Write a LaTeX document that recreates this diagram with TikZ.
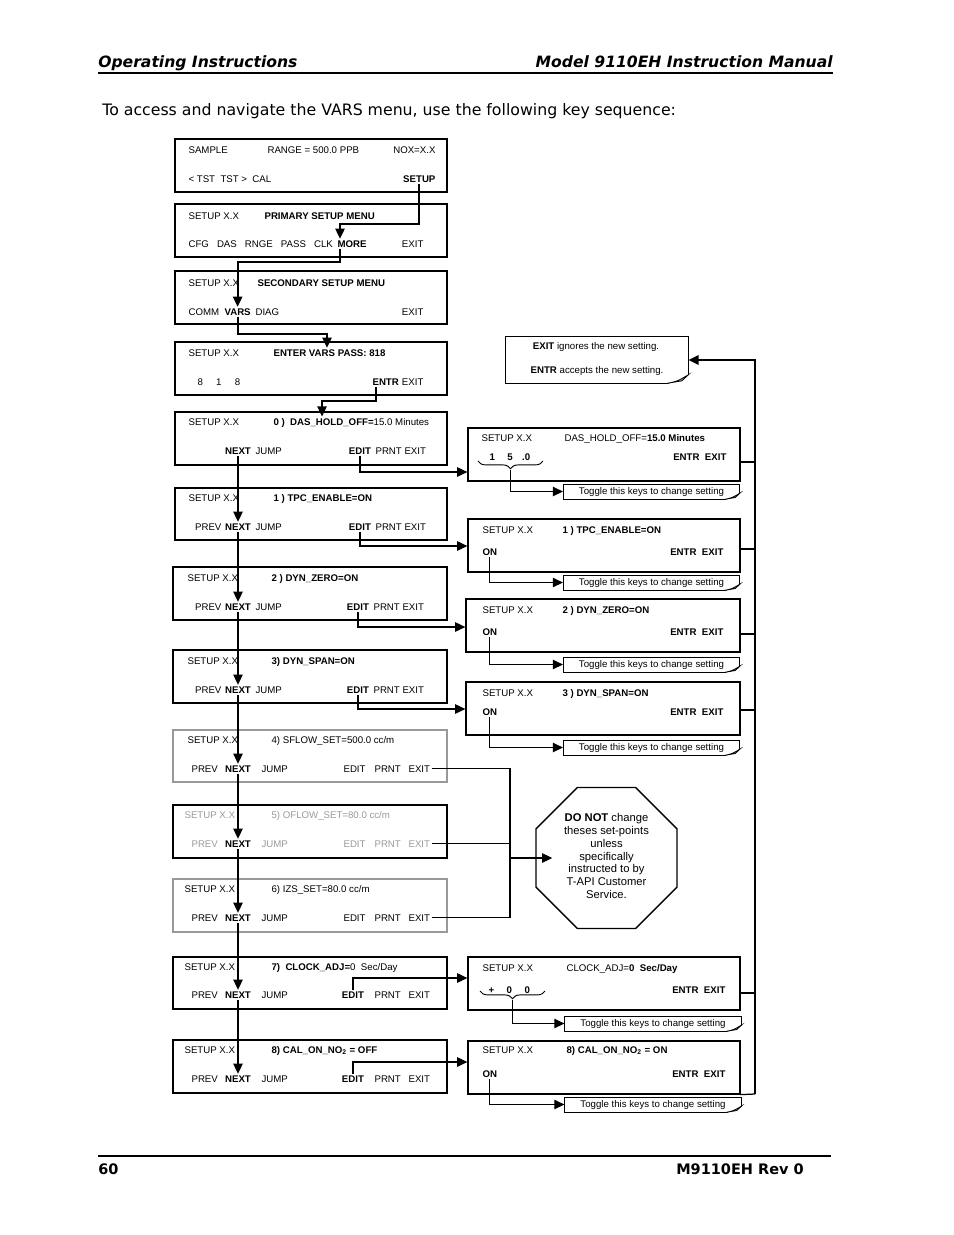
\documentclass[tikz,border=0pt]{standalone}
\usepackage{fontspec}
\setmainfont{Liberation Sans}
\newfontfamily\verd{DejaVu Sans}
\usetikzlibrary{shapes.geometric, arrows.meta, fit, calc, decorations.pathreplacing}
\newcommand{\lcdfont}{\fontsize{6.2}{7.4}\selectfont}
\newcommand{\stopfont}{\fontsize{7.2}{8.15}\selectfont}
\tikzstyle{pagehead} = [inner sep=0pt, font={\verd\fontsize{10}{12}\selectfont\bfseries\itshape}]
\tikzstyle{pagebody} = [inner sep=0pt, font={\verd\fontsize{10.1}{12}\selectfont}]
\tikzstyle{pagefoot} = [inner sep=0pt, font={\verd\fontsize{9.3}{12}\selectfont\bfseries}]
\tikzstyle{panel} = [rectangle, draw, line width=0.8pt, inner sep=0pt]
\tikzstyle{dimpanel} = [panel, draw=black!40]
\tikzstyle{lcd} = [inner sep=0pt, outer sep=1pt, anchor=base west, font=\lcdfont]
\tikzstyle{lcdr} = [lcd, anchor=base east]
\tikzstyle{lcdc} = [lcd, anchor=base]
\tikzstyle{lcdg} = [lcd, text=black!40]
\tikzstyle{toggle} = [rectangle, draw, line width=0.6pt, minimum width=113pt, minimum height=9.6pt, inner sep=0pt, font=\lcdfont]
\tikzstyle{arrow} = [line width=1.2pt, ->, >={Triangle[length=6.5pt,width=6pt]}]
\tikzstyle{wire} = [line width=0.8pt]
\tikzstyle{wirearrow} = [wire, ->, >={Triangle[length=6.5pt,width=6pt]}]
\tikzstyle{brace} = [decorate, decoration={brace, mirror, amplitude=5pt}, line width=0.6pt]
% folded corner at the lower right of a node
\newcommand{\pagecurl}[2]{%
  \fill[white] ($(#1.south east)+(-#2,1.2)$) -- ($(#1.south east)+(1.5,1.2)$) -- ($(#1.south east)+(1.5,-0.4*#2)$) -- cycle;
  \filldraw[fill=black!35, line width=0.5pt] ($(#1.south east)+(-#2,0)$) .. controls ($(#1.south east)+(-0.5*#2,-0.1*#2)$) .. ($(#1.south east)+(0,-0.4*#2)$) -- ($(#1.south east)+(-0.3*#2,-0.12*#2)$) -- cycle;}

\begin{document}
\begin{tikzpicture}[x=0.6415pt, y=-0.6415pt]
\useasboundingbox (0,0) rectangle (954,1235);

% page head and foot
\node [pagehead, anchor=base west] (hdl) at (98,67) {Operating Instructions};
\node [pagehead, anchor=base east] (hdr) at (833,67) {Model 9110EH Instruction Manual};
\draw [line width=0.7pt] (hdl.west |- 0,73) -- (hdr.east |- 0,73);
\node [pagebody, anchor=base west] (intro) at (102,115) {To access and navigate the VARS menu, use the following key sequence:};
\draw [line width=0.7pt] (98,1156) -- (831,1156);
\node [pagefoot, anchor=base west] (pgno) at (98,1174) {60};
\node [pagefoot, anchor=base east] (rev) at (804,1174) {M9110EH Rev 0};

% main menu
\node [panel, fit={(175,139) (447,192)}] (p1) {};
\node [lcd] (p1a) at (187,153) {SAMPLE};
\node [lcd] (p1b) at (266,153) {RANGE = 500.0 PPB};
\node [lcdr] (p1c) at (437,153) {NOX=X.X};
\node [lcd] (p1d) at (187,182) {<~TST~~TST~>~~CAL};
\node [lcdr] (setupkey) at (437,182) {\textbf{SETUP}};

\node [panel, fit={(175,204) (447,257)}] (p2) {};
\node [lcd] (p2a) at (187,219) {SETUP X.X};
\node [lcd] (p2b) at (263,219) {\textbf{PRIMARY SETUP MENU}};
\node [lcd] (p2c) at (187,247) {CFG~~~DAS~~~RNGE~~~PASS~~~CLK};
\node [lcd] (morekey) at (336,247) {\textbf{MORE}};
\node [lcdr] (p2d) at (425,247) {EXIT};

\node [panel, fit={(175,271) (447,324)}] (p3) {};
\node [lcd] (p3a) at (187,286) {SETUP X.X};
\node [lcd] (p3b) at (256,286) {\textbf{SECONDARY SETUP MENU}};
\node [lcd] (p3c) at (187,315) {COMM};
\node [lcd] (varskey) at (223,315) {\textbf{VARS}};
\node [lcd] (p3d) at (254,315) {DIAG};
\node [lcdr] (p3e) at (425,315) {EXIT};

\node [panel, fit={(175,342) (447,395)}] (p4) {};
\node [lcd] (p4a) at (187,356) {SETUP X.X};
\node [lcd] (pass4) at (272,356) {\textbf{ENTER VARS PASS: 818}};
\node [lcd] (p4b) at (196,385) {8\hspace{8.5pt}1\hspace{8.5pt}8};
\node [lcd] (entr4) at (371,385) {\textbf{ENTR}};
\node [lcdr] (p4c) at (425,385) {EXIT};

% VARS list
\node [panel, fit={(175,412) (447,465)}] (p5) {};
\node [lcd] (p5a) at (187,425) {SETUP X.X};
\node [lcd] (hold5) at (272,425) {\textbf{0 )~~DAS\_HOLD\_OFF=}15.0 Minutes};
\node [lcdc] (next5) at (238,454) {\textbf{NEXT}};
\node [lcd] (p5b) at (254,454) {JUMP};
\node [lcdc] (edit5) at (360,454) {\textbf{EDIT}};
\node [lcd] (p5c) at (374,454) {PRNT EXIT};

\node [panel, fit={(175,488) (447,540)}] (p6) {};
\node [lcd] (p6a) at (187,501) {SETUP X.X};
\node [lcd] (p6b) at (272,501) {\textbf{1 ) TPC\_ENABLE=ON}};
\node [lcdr] (p6c) at (223,530) {PREV};
\node [lcdc] (next6) at (238,530) {\textbf{NEXT}};
\node [lcd] (p6d) at (254,530) {JUMP};
\node [lcdc] (edit6) at (360,530) {\textbf{EDIT}};
\node [lcd] (p6e) at (374,530) {PRNT EXIT};

\node [panel, fit={(173,567) (447,620)}] (p7) {};
\node [lcd] (p7a) at (186,581) {SETUP X.X};
\node [lcd] (p7b) at (270,581) {\textbf{2 ) DYN\_ZERO=ON}};
\node [lcdr] (p7c) at (223,610) {PREV};
\node [lcdc] (next7) at (238,610) {\textbf{NEXT}};
\node [lcd] (p7d) at (254,610) {JUMP};
\node [lcdc] (edit7) at (358,610) {\textbf{EDIT}};
\node [lcd] (p7e) at (372,610) {PRNT EXIT};

\node [panel, fit={(173,650) (447,703)}] (p8) {};
\node [lcd] (p8a) at (186,664) {SETUP X.X};
\node [lcd] (p8b) at (270,664) {\textbf{3) DYN\_SPAN=ON}};
\node [lcdr] (p8c) at (223,693) {PREV};
\node [lcdc] (next8) at (238,693) {\textbf{NEXT}};
\node [lcd] (p8d) at (254,693) {JUMP};
\node [lcdc] (edit8) at (358,693) {\textbf{EDIT}};
\node [lcd] (p8e) at (372,693) {PRNT EXIT};

\node [dimpanel, fit={(173,730) (447,782)}] (p9) {};
\node [lcd] (p9a) at (186,743) {SETUP X.X};
\node [lcd] (p9b) at (270,743) {4) SFLOW\_SET=500.0 cc/m};
\node [lcd] (p9c) at (190,772) {PREV};
\node [lcdc] (next9) at (238,772) {\textbf{NEXT}};
\node [lcd] (p9d) at (260,772) {JUMP};
\node [lcd] (p9e) at (342,772) {EDIT};
\node [lcd] (p9f) at (373,772) {PRNT};
\node [lcd] (exit9) at (407,772) {EXIT};

\node [panel, fit={(173,805) (447,858)}] (p10) {};
\node [lcdg] (p10a) at (183,818) {SETUP X.X};
\node [lcdg] (p10b) at (270,818) {5) OFLOW\_SET=80.0 cc/m};
\node [lcdg] (p10c) at (190,847) {PREV};
\node [lcdc] (next10) at (238,847) {\textbf{NEXT}};
\node [lcdg] (p10d) at (260,847) {JUMP};
\node [lcdg] (p10e) at (342,847) {EDIT};
\node [lcdg] (p10f) at (373,847) {PRNT};
\node [lcdg] (exit10) at (407,847) {EXIT};

\node [dimpanel, fit={(173,879) (447,932)}] (p11) {};
\node [lcd] (p11a) at (183,892) {SETUP X.X};
\node [lcd] (p11b) at (270,892) {6) IZS\_SET=80.0 cc/m};
\node [lcd] (p11c) at (190,921) {PREV};
\node [lcdc] (next11) at (238,921) {\textbf{NEXT}};
\node [lcd] (p11d) at (260,921) {JUMP};
\node [lcd] (p11e) at (342,921) {EDIT};
\node [lcd] (p11f) at (373,921) {PRNT};
\node [lcd] (exit11) at (407,921) {EXIT};

\node [panel, fit={(173,957) (447,1009)}] (p12) {};
\node [lcd] (p12a) at (183,970) {SETUP X.X};
\node [lcd] (p12b) at (270,970) {\textbf{7)~~CLOCK\_ADJ=}0~~Sec/Day};
\node [lcd] (p12c) at (190,998) {PREV};
\node [lcdc] (next12) at (238,998) {\textbf{NEXT}};
\node [lcd] (p12d) at (260,998) {JUMP};
\node [lcdc] (edit12) at (353,998) {\textbf{EDIT}};
\node [lcd] (p12e) at (373,998) {PRNT};
\node [lcd] (p12f) at (407,998) {EXIT};

\node [panel, fit={(173,1040) (447,1093)}] (p13) {};
\node [lcd] (p13a) at (183,1053) {SETUP X.X};
\node [lcd] (p13b) at (270,1053) {\textbf{8) CAL\_ON\_NO\textsubscript{2} = OFF}};
\node [lcd] (p13c) at (190,1082) {PREV};
\node [lcdc] (next13) at (238,1082) {\textbf{NEXT}};
\node [lcd] (p13d) at (260,1082) {JUMP};
\node [lcdc] (edit13) at (353,1082) {\textbf{EDIT}};
\node [lcd] (p13e) at (373,1082) {PRNT};
\node [lcd] (p13f) at (407,1082) {EXIT};

% edit panels
\node [panel, fit={(468,428) (740,481)}] (r0) {};
\node [lcd] (r0a) at (480,441) {SETUP X.X};
\node [lcd] (r0b) at (563,441) {DAS\_HOLD\_OFF=\textbf{15.0 Minutes}};
\node [lcd] (r0c) at (488,460) {\textbf{1\hspace{8pt}5\hspace{6pt}.0}};
\node [lcdr] (r0d) at (728,460) {\textbf{ENTR~~EXIT}};
\node [toggle] (tg0) at (651.5,491.5) {Toggle this keys to change setting};

\node [panel, fit={(468,519) (740,572)}] (r1) {};
\node [lcd] (r1a) at (481,533) {SETUP X.X};
\node [lcd] (r1b) at (561,533) {\textbf{1 ) TPC\_ENABLE=ON}};
\node [lcd] (on1) at (481,555) {\textbf{ON}};
\node [lcdr] (r1c) at (725,555) {\textbf{ENTR~~EXIT}};
\node [toggle] (tg1) at (651.5,582.5) {Toggle this keys to change setting};

\node [panel, fit={(466,599) (740,652)}] (r2) {};
\node [lcd] (r2a) at (481,613) {SETUP X.X};
\node [lcd] (r2b) at (561,613) {\textbf{2 ) DYN\_ZERO=ON}};
\node [lcd] (on2) at (481,635) {\textbf{ON}};
\node [lcdr] (r2c) at (725,635) {\textbf{ENTR~~EXIT}};
\node [toggle] (tg2) at (651.5,664.5) {Toggle this keys to change setting};

\node [panel, fit={(466,682) (740,735)}] (r3) {};
\node [lcd] (r3a) at (481,696) {SETUP X.X};
\node [lcd] (r3b) at (561,696) {\textbf{3 ) DYN\_SPAN=ON}};
\node [lcd] (on3) at (481,715) {\textbf{ON}};
\node [lcdr] (r3c) at (725,715) {\textbf{ENTR~~EXIT}};
\node [toggle] (tg3) at (651.5,747.5) {Toggle this keys to change setting};

\node [panel, fit={(468,957) (740,1010)}] (r7) {};
\node [lcd] (r7a) at (481,971) {SETUP X.X};
\node [lcd] (r7b) at (565,971) {CLOCK\_ADJ=\textbf{0~~Sec/Day}};
\node [lcd] (r7c) at (487,993) {\textbf{+\hspace{8pt}0\hspace{8pt}0}};
\node [lcdr] (r7d) at (727,993) {\textbf{ENTR~~EXIT}};
\node [toggle] (tg7) at (653,1023.5) {Toggle this keys to change setting};

\node [panel, fit={(468,1041) (740,1094)}] (r8) {};
\node [lcd] (r8a) at (481,1053) {SETUP X.X};
\node [lcd] (r8b) at (565,1053) {\textbf{8) CAL\_ON\_NO\textsubscript{2} = ON}};
\node [lcd] (on8) at (481,1077) {\textbf{ON}};
\node [lcdr] (r8c) at (727,1077) {\textbf{ENTR~~EXIT}};
\node [toggle] (tg8) at (653,1104.5) {Toggle this keys to change setting};

% note and stop sign
\node [panel, line width=0.6pt, fit={(505,336) (688,383)}] (note) {};
\node [lcdc] (note1) at (596,349.5) {\textbf{EXIT} ignores the new setting.};
\node [lcdc] (note2) at (597,373.5) {\textbf{ENTR} accepts the new setting.};
\node [regular polygon, regular polygon sides=8, draw, line width=0.9pt, minimum size=97.9pt, inner sep=0pt] (stop) at (606.5,858) {};
\node [align=center, inner sep=0pt, font=\stopfont] (stoptxt) at (606.5,856) {\textbf{DO NOT} change\\theses set-points\\unless\\specifically\\instructed to by\\T-API Customer\\Service.};

\pagecurl{note}{22}
\foreach \t in {tg0,tg1,tg2,tg3,tg7,tg8} {\pagecurl{\t}{16}}

% key sequence into the VARS menu
\draw [arrow] (setupkey.south) -- ++(0,40) -| ($(morekey.north west)+(4,0)$);
\draw [arrow] ($(morekey.south west)+(4,0)$) -- ++(0,13) -| (varskey.north);
\draw [arrow] (varskey.south) -- ++(0,17) -| ($(pass4.north west)+(55,0)$);
\draw [arrow] ($(entr4.south west)+(5,0)$) -- ++(0,14) -| ($(hold5.north west)+(50,0)$);
\foreach \a/\b in {5/6, 6/7, 7/8, 8/9, 9/10, 10/11, 11/12, 12/13}
  \draw [wirearrow] (next\a.south) -- (next\b.north);

% EDIT keys
\draw [wirearrow] (edit5.south) |- (r0.west |- 0,472);
\draw [wirearrow] (edit6.south) |- (r1.west |- 0,546);
\draw [wirearrow] (edit7.south) |- (r2.west |- 0,627);
\draw [wirearrow] (edit8.south) |- (r3.west |- 0,709);
\draw [wirearrow] (edit12.north) |- (r7.west |- 0,978);
\draw [wirearrow] (edit13.north) |- (r8.west |- 0,1062);

% toggle keys
\coordinate (b0l) at (478,461);
\coordinate (b0r) at (543,461);
\coordinate (b0m) at (510.5,470);
\draw [brace] (b0l) -- (b0r);
\draw [wirearrow] (b0m) |- (tg0.west);
\draw [wirearrow] (on1.south) |- (tg1.west);
\draw [wirearrow] (on2.south) |- (tg2.west);
\draw [wirearrow] (on3.south) |- (tg3.west);
\coordinate (b7l) at (480,991);
\coordinate (b7r) at (545,991);
\coordinate (b7m) at (512.5,1000);
\draw [brace] (b7l) -- (b7r);
\draw [wirearrow] (b7m) |- (tg7.west);
\draw [wirearrow] (on8.south) |- (tg8.west);

% ENTR / EXIT return
\coordinate (rtop) at (755,360);
\coordinate (rbot) at (755,1094);
\draw [arrow] (rbot) -- (rtop) -- (note.east |- rtop);
\draw [wire] (r0.east |- 0,462) -- (rtop |- 0,462);
\draw [wire] (r1.east |- 0,549) -- (rtop |- 0,549);
\draw [wire] (r2.east |- 0,634) -- (rtop |- 0,634);
\draw [wire] (r3.east |- 0,710) -- (rtop |- 0,710);
\draw [wire] (r7.east |- 0,993) -- (rtop |- 0,993);
\draw [wire] (r8.south east) -- (rbot);

% set-points warning
\coordinate (bus) at (510,858);
\draw [wire] (exit9.east) -| (bus);
\draw [wire] (exit11.east) -| (bus);
\draw [wire] (exit10.east) -- (exit10.east -| bus);
\draw [wirearrow] (bus) -- ($(bus -| stop.west)+(17,0)$);
\end{tikzpicture}
\end{document}
